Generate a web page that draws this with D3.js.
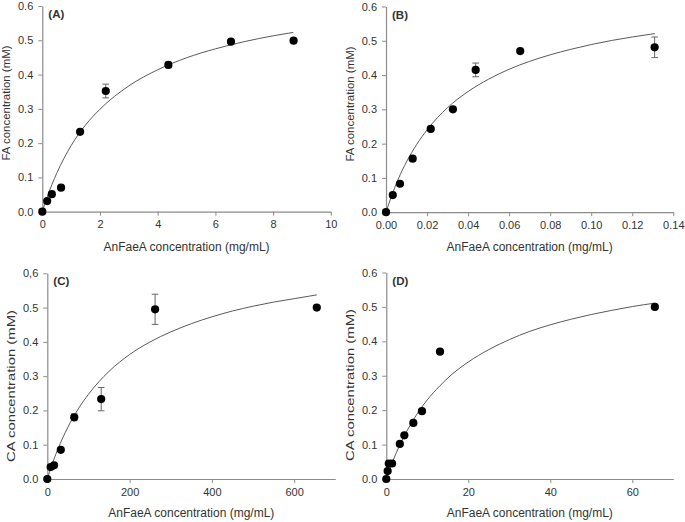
<!DOCTYPE html>
<html>
<head>
<meta charset="utf-8">
<script src="https://cdn.jsdelivr.net/npm/d3@7"></script>
<style>
  body { margin: 0; background: #fff; }
  svg { display: block; }
  text { font-family: "Liberation Sans", Arial, sans-serif; fill: #333; }
</style>
</head>
<body>
<svg id="fig" width="685" height="522"></svg>
<script>
// ----------------------------
// Data
// ----------------------------
// (A) FA vs AnFaeA
const aX = [0, 0.17, 0.33, 0.65, 1.31, 2.2, 4.37, 6.54, 8.71];
const aY = [0, 0.031, 0.051, 0.070, 0.233, 0.352, 0.428, 0.496, 0.499];
const aErr = [0, 0, 0, 0, 0, 0.02, 0.008, 0, 0];
const aFitX = [0, 0.17, 0.5, 1, 1.5, 2, 3, 4, 5, 6, 7, 8, 8.7];
const aFitY = [0, 0.043, 0.112, 0.193, 0.253, 0.299, 0.367, 0.414, 0.449, 0.475, 0.496, 0.513, 0.523];

// (B) FA vs AnFaeA
const bX = [0, 0.0033, 0.0068, 0.013, 0.0218, 0.0326, 0.0437, 0.0654, 0.1309];
const bY = [0, 0.050, 0.083, 0.156, 0.243, 0.300, 0.415, 0.470, 0.481];
const bErr = [0, 0, 0, 0, 0, 0, 0.02, 0, 0.03];
const bFitX = [0, 0.003, 0.006, 0.01, 0.015, 0.02, 0.03, 0.04, 0.05, 0.06, 0.07, 0.08, 0.09, 0.1, 0.11, 0.12, 0.131];
const bFitY = [0, 0.052, 0.097, 0.147, 0.198, 0.240, 0.305, 0.352, 0.388, 0.417, 0.440, 0.459, 0.475, 0.489, 0.501, 0.511, 0.521];

// (C) CA vs AnFaeA
const cX = [0, 8.2, 16.4, 32.8, 65.5, 131, 262, 655];
const cY = [0, 0.035, 0.040, 0.085, 0.180, 0.233, 0.495, 0.500];
const cErr = [0, 0, 0, 0, 0.01, 0.034, 0.044, 0];
const cFitX = [0, 10, 25, 50, 75, 100, 150, 200, 250, 300, 350, 400, 450, 500, 550, 600, 655];
const cFitY = [0, 0.037, 0.085, 0.151, 0.204, 0.247, 0.314, 0.363, 0.400, 0.429, 0.453, 0.473, 0.490, 0.504, 0.516, 0.526, 0.537];

// (D) CA vs AnFaeA
const dX = [0, 0.33, 0.6, 1.4, 3.3, 4.4, 6.6, 8.7, 13.1, 65.5];
const dY = [0, 0.023, 0.045, 0.045, 0.102, 0.127, 0.163, 0.197, 0.370, 0.500];
const dErr = [0, 0, 0, 0, 0, 0, 0, 0, 0, 0];
const dFitX = [0.5, 1, 2, 4, 6, 8, 10, 13, 16, 20, 25, 30, 35, 40, 45, 50, 55, 60, 65.5];
const dFitY = [0.017, 0.034, 0.064, 0.116, 0.160, 0.198, 0.230, 0.270, 0.304, 0.340, 0.376, 0.405, 0.429, 0.448, 0.464, 0.478, 0.490, 0.501, 0.511];

// tick labels
const yTicks = [0, 0.1, 0.2, 0.3, 0.4, 0.5, 0.6];
const aTicks = [0, 2, 4, 6, 8, 10];
const bTicks = [0, 0.02, 0.04, 0.06, 0.08, 0.10, 0.12, 0.14];
const cTicks = [0, 200, 400, 600];
const dTicks = [0, 20, 40, 60];

const xTitle = "AnFaeA concentration (mg/mL)";

// ----------------------------
// Panel layout
// ----------------------------
const panels = [
  { tag: "(A)", x: aX, y: aY, err: aErr, fx: aFitX, fy: aFitY, xMax: 10, xTicks: aTicks, xFmt: d3.format("d"),
    yTitle: "FA concentration (mM)", yFmt: d3.format(".1f"), yTitleLen: 115,
    left: 42.3, right: 330.8, top: 6, bottom: 211.7, yTitleY: 103, xTitleY: 251 },
  { tag: "(B)", x: bX, y: bY, err: bErr, fx: bFitX, fy: bFitY, xMax: 0.14, xTicks: bTicks, xFmt: d3.format(".2f"),
    yTitle: "FA concentration (mM)", yFmt: d3.format(".1f"), yTitleLen: 115,
    left: 386, right: 673.3, top: 6.5, bottom: 212.2, yTitleY: 104, xTitleY: 251 },
  { tag: "(C)", x: cX, y: cY, err: cErr, fx: cFitX, fy: cFitY, xMax: 700, xTicks: cTicks, xFmt: d3.format("d"),
    yTitle: "CA concentration (mM)", yFmt: v => v === 0.6 ? "0,6" : d3.format(".1f")(v), yTitleLen: 152,
    left: 47.3, right: 335.3, top: 273.3, bottom: 479, yTitleY: 386, xTitleY: 517 },
  { tag: "(D)", x: dX, y: dY, err: dErr, fx: dFitX, fy: dFitY, xMax: 70, xTicks: dTicks, xFmt: d3.format("d"),
    yTitle: "CA concentration (mM)", yFmt: d3.format(".1f"), yTitleLen: 152,
    left: 386.3, right: 673.3, top: 272.5, bottom: 479, yTitleY: 385, xTitleY: 517 }
];

const svg = d3.select("#fig");
const axisColor = "#8c8c8c";

panels.forEach(function(p) {
  const xScale = d3.scaleLinear().domain([0, p.xMax]).range([p.left, p.right]);
  const yScale = d3.scaleLinear().domain([0, 0.6]).range([p.bottom, p.top]);
  const g = svg.append("g");

  // axes
  const gx = g.append("g")
    .attr("transform", `translate(0,${p.bottom})`)
    .call(d3.axisBottom(xScale).tickValues(p.xTicks).tickFormat(p.xFmt).tickSize(4).tickSizeOuter(0).tickPadding(5));
  const gy = g.append("g")
    .attr("transform", `translate(${p.left},0)`)
    .call(d3.axisLeft(yScale).tickValues(yTicks).tickFormat(p.yFmt).tickSize(4).tickSizeOuter(0).tickPadding(5));
  [gx, gy].forEach(a => {
    a.select(".domain").attr("stroke", axisColor).attr("stroke-width", 1.2);
    a.selectAll(".tick line").attr("stroke", axisColor);
    a.selectAll(".tick text").attr("fill", "#333").style("font-size", "11px")
      .style("font-family", '"Liberation Sans", Arial, sans-serif');
  });

  // titles
  g.append("text")
    .attr("x", (p.left + p.right) / 2)
    .attr("y", p.xTitleY)
    .attr("text-anchor", "middle")
    .style("font-size", "12px")
    .text(xTitle);
  g.append("text")
    .attr("transform", `translate(${p.left - 36},${p.yTitleY}) rotate(-90)`)
    .attr("dy", "0.35em")
    .attr("text-anchor", "middle")
    .attr("textLength", p.yTitleLen)
    .attr("lengthAdjust", "spacingAndGlyphs")
    .style("font-size", "11.5px")
    .text(p.yTitle);
  g.append("text")
    .attr("x", p.left + 6)
    .attr("y", p.top + 12)
    .style("font-size", "11.5px")
    .style("font-weight", "bold")
    .attr("fill", "#111")
    .text(p.tag);

  // fitted curve
  const fit = p.fx.map((v, i) => [v, p.fy[i]]);
  g.append("path")
    .datum(fit)
    .attr("fill", "none")
    .attr("stroke", "#5a5a5a")
    .attr("stroke-width", 1)
    .attr("d", d3.line().x(d => xScale(d[0])).y(d => yScale(d[1])).curve(d3.curveMonotoneX));

  // error bars
  const pts = p.x.map((v, i) => ({ x: v, y: p.y[i], e: p.err[i] }));
  const bars = g.selectAll(".err").data(pts.filter(d => d.e > 0)).enter().append("g")
    .attr("stroke", "#666").attr("stroke-width", 1);
  bars.append("line")
    .attr("x1", d => xScale(d.x)).attr("x2", d => xScale(d.x))
    .attr("y1", d => yScale(d.y - d.e)).attr("y2", d => yScale(d.y + d.e));
  bars.append("line")
    .attr("x1", d => xScale(d.x) - 3.3).attr("x2", d => xScale(d.x) + 3.3)
    .attr("y1", d => yScale(d.y + d.e)).attr("y2", d => yScale(d.y + d.e));
  bars.append("line")
    .attr("x1", d => xScale(d.x) - 3.3).attr("x2", d => xScale(d.x) + 3.3)
    .attr("y1", d => yScale(d.y - d.e)).attr("y2", d => yScale(d.y - d.e));

  // points
  g.selectAll("circle")
    .data(pts)
    .enter()
    .append("circle")
    .attr("cx", d => xScale(d.x))
    .attr("cy", d => yScale(d.y))
    .attr("r", 4.1)
    .attr("fill", "#000");
});
</script>
</body>
</html>
